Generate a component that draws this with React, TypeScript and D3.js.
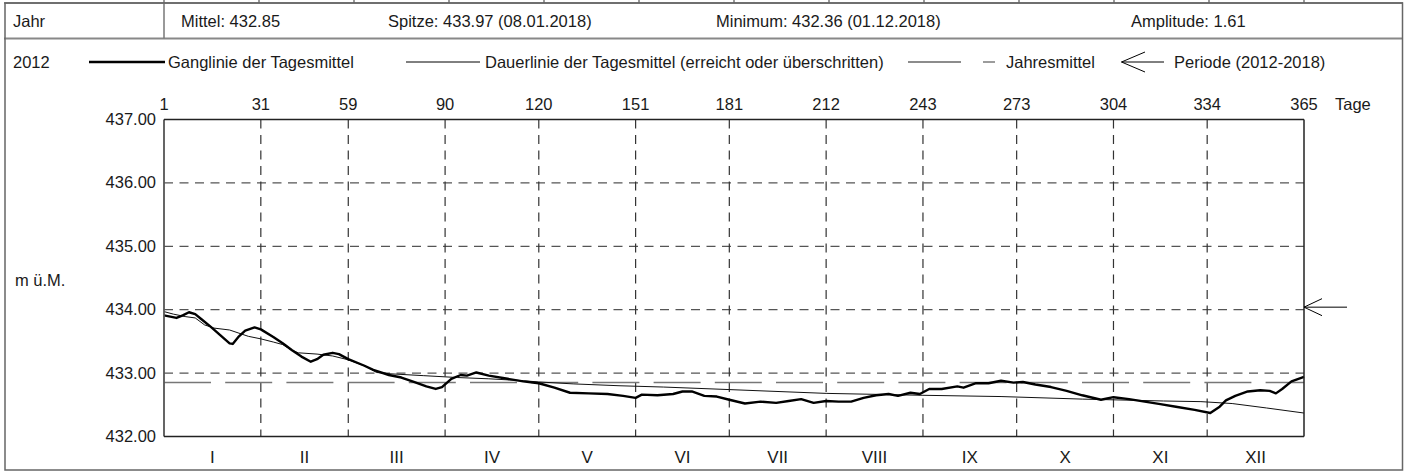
import React from "react";
import * as d3 from "d3";

const W = 1407;
const H = 472;

// header / legend texts
const yearLabel = "2012";
const statLabels = [
  "Mittel: 432.85",
  "Spitze: 433.97 (08.01.2018)",
  "Minimum: 432.36 (01.12.2018)",
  "Amplitude: 1.61",
];
const legendLabels = [
  "Ganglinie der Tagesmittel",
  "Dauerlinie der Tagesmittel (erreicht oder überschritten)",
  "Jahresmittel",
  "Periode (2012-2018)",
];

// axes
const dayTicks = [0, 31, 59, 90, 120, 151, 181, 212, 243, 273, 304, 334, 365];
const dayTickLabels = ["1", "31", "59", "90", "120", "151", "181", "212", "243", "273", "304", "334", "365"];
const months = ["I", "II", "III", "IV", "V", "VI", "VII", "VIII", "IX", "X", "XI", "XII"];
const levelTicks = [432, 433, 434, 435, 436, 437];

const yearMean = 432.85;
const periodMean = 434.04;

// Ganglinie der Tagesmittel
const gangDays = [
  0, 2, 4, 6, 8, 10, 12, 15, 18, 21, 22, 24, 26, 29, 31, 35, 38, 41, 44, 47, 49, 51, 54, 56, 59, 64, 67, 72, 76,
  80, 84, 87, 89, 92, 95, 97, 100, 104, 110, 115, 120, 125, 130, 136, 142, 147, 151, 153, 158, 163, 166, 169, 173,
  177, 181, 186, 191, 196, 200, 204, 208, 212, 216, 220, 224, 228, 232, 235, 239, 242, 245, 249, 254, 256, 260, 264,
  268, 272, 275, 279, 284, 289, 294, 300, 304, 309, 314, 319, 324, 330, 335, 338, 340, 343, 347, 351, 354, 356, 358,
  361, 365,
];
const gangValues = [
  433.91, 433.89, 433.87, 433.91, 433.96, 433.93, 433.85, 433.73, 433.6, 433.47, 433.46, 433.58, 433.67, 433.72,
  433.69, 433.57, 433.47, 433.36, 433.26, 433.18, 433.22, 433.29, 433.32, 433.3, 433.22, 433.12, 433.05, 432.97,
  432.93, 432.86, 432.79, 432.75, 432.78, 432.91, 432.97, 432.96, 433.01, 432.96, 432.91, 432.87, 432.84, 432.77,
  432.69, 432.68, 432.67, 432.64, 432.61, 432.66, 432.65, 432.67, 432.71, 432.71, 432.64, 432.63, 432.58, 432.52,
  432.55, 432.53, 432.56, 432.59, 432.53, 432.56, 432.55, 432.55, 432.61, 432.65, 432.67, 432.64, 432.69, 432.67,
  432.75, 432.75, 432.79, 432.77, 432.84, 432.84, 432.88, 432.85, 432.86, 432.82, 432.78, 432.72, 432.65, 432.58,
  432.62, 432.59, 432.55, 432.51, 432.47, 432.42, 432.37, 432.47, 432.57, 432.64, 432.71, 432.73, 432.72, 432.68,
  432.75, 432.87, 432.94,
];

// Dauerlinie der Tagesmittel
const dauerDays = [
  0, 3, 7, 10, 13, 16, 21, 24, 27, 31, 35, 38, 41, 43, 49, 54, 59, 65, 68, 72, 83, 94, 104, 115, 120, 131, 146, 160,
  181, 212, 243, 268, 294, 320, 332, 342, 353, 365,
];
const dauerValues = [
  433.97, 433.93, 433.89, 433.87, 433.76, 433.71, 433.68, 433.63, 433.58, 433.54, 433.49, 433.45, 433.36, 433.32,
  433.3, 433.27, 433.21, 433.1, 433.01, 432.99, 432.96, 432.93, 432.91, 432.88, 432.86, 432.83, 432.8, 432.78,
  432.74, 432.68, 432.65, 432.63, 432.59, 432.56, 432.55, 432.52, 432.45, 432.37,
];

const FONT = "'Liberation Sans', Arial, Helvetica, sans-serif";
const INK = "#1a1a1a";
const FS = 16.5;

export default function App() {
  const plot = { left: 164, right: 1304, top: 119.5, bottom: 436.5 };

  const x = d3.scaleLinear().domain([0, 365]).range([plot.left, plot.right]);
  const y = d3.scaleLinear().domain([432, 437]).range([plot.bottom, plot.top]);

  const pathOf = d3
    .line<[number, number]>()
    .x((d) => x(d[0]))
    .y((d) => y(d[1]));
  const gangPath = pathOf(gangDays.map((d, i) => [d, gangValues[i]] as [number, number])) ?? "";
  const dauerPath = pathOf(dauerDays.map((d, i) => [d, dauerValues[i]] as [number, number])) ?? "";

  // columns of the table that sits above this one (only their feet show)
  const colMarks = d3.range(13).map((k) => plot.left + (k * (plot.right - plot.left)) / 12);
  const statX = [181, 388, 716, 1131];

  const gridDash = "9,6.5";
  const headBase = 26.5;
  const legY = 62;
  const legBase = legY + 6;
  const arrowY = y(periodMean);

  return (
    <svg
      width={W}
      height={H}
      style={{ position: "absolute", left: 0, top: 0, background: "#fff" }}
      fontFamily={FONT}
    >
      {/* outer frame + table rows */}
      {colMarks.map((m) => (
        <line key={m} x1={m} x2={m} y1={0} y2={3} stroke="#555" strokeWidth={1.2} />
      ))}
      <line x1={4} x2={1403} y1={3} y2={3} stroke="#666" strokeWidth={1.5} />
      <line x1={4} x2={1403} y1={38.5} y2={38.5} stroke="#888" strokeWidth={2} />
      <line x1={plot.left} x2={plot.left} y1={3} y2={38.5} stroke="#777" strokeWidth={1.5} />
      <rect x={5} y={3} width={1397.5} height={467} fill="none" stroke="#666" strokeWidth={1.5} />

      {/* header row */}
      <text x={13} y={headBase} fontSize={FS} fill={INK}>
        Jahr
      </text>
      {statLabels.map((s, i) => (
        <text key={s} x={statX[i]} y={headBase} fontSize={FS} fill={INK}>
          {s}
        </text>
      ))}

      {/* legend row */}
      <text x={13} y={legBase} fontSize={FS} fill={INK}>
        {yearLabel}
      </text>
      <line x1={89} x2={165} y1={legY} y2={legY} stroke="#000" strokeWidth={2.5} />
      <text x={168} y={legBase} fontSize={FS} fill={INK}>
        {legendLabels[0]}
      </text>
      <line x1={406} x2={480} y1={legY} y2={legY} stroke="#000" strokeWidth={1} />
      <text x={485} y={legBase} fontSize={FS} fill={INK}>
        {legendLabels[1]}
      </text>
      <line x1={908} x2={961} y1={legY} y2={legY} stroke="#666" strokeWidth={1.3} />
      <line x1={983} x2={995} y1={legY} y2={legY} stroke="#666" strokeWidth={1.3} />
      <text x={1006} y={legBase} fontSize={FS} fill={INK}>
        {legendLabels[2]}
      </text>
      <path
        d={`M1121.5,${legY}H1164M1145,${legY - 10}L1121.5,${legY}L1145,${legY + 10}`}
        fill="none"
        stroke="#000"
        strokeWidth={1}
      />
      <text x={1174} y={legBase} fontSize={FS} fill={INK}>
        {legendLabels[3]}
      </text>

      {/* grid */}
      {levelTicks
        .filter((v) => v > 432 && v < 437)
        .map((v) => (
          <line
            key={"h" + v}
            x1={plot.left}
            x2={plot.right}
            y1={y(v)}
            y2={y(v)}
            stroke="#555"
            strokeWidth={1.2}
            strokeDasharray={gridDash}
          />
        ))}
      {dayTicks.slice(1, -1).map((d) => (
        <line
          key={"v" + d}
          x1={x(d)}
          x2={x(d)}
          y1={plot.top}
          y2={plot.bottom}
          stroke="#333"
          strokeWidth={1.2}
          strokeDasharray={gridDash}
        />
      ))}

      {/* Jahresmittel */}
      <line
        x1={plot.left}
        x2={plot.right}
        y1={y(yearMean)}
        y2={y(yearMean)}
        stroke="#777"
        strokeWidth={1.5}
        strokeDasharray="47,14.2"
      />

      {/* curves */}
      <path d={dauerPath} fill="none" stroke="#111" strokeWidth={1} />
      <path d={gangPath} fill="none" stroke="#000" strokeWidth={2.4} strokeLinejoin="round" />

      {/* plot frame */}
      <line x1={plot.left} x2={plot.left} y1={plot.top} y2={plot.bottom} stroke="#555" strokeWidth={1.8} />
      <line x1={plot.left} x2={plot.right} y1={plot.top} y2={plot.top} stroke="#222" strokeWidth={1.5} />
      <line x1={plot.right} x2={plot.right} y1={plot.top} y2={plot.bottom} stroke="#222" strokeWidth={1.5} />
      <line x1={plot.left} x2={plot.right} y1={plot.bottom} y2={plot.bottom} stroke="#222" strokeWidth={1.5} />

      {/* y axis */}
      {levelTicks.map((v) => (
        <text key={"yl" + v} x={156} y={y(v) + 5.5} fontSize={FS} textAnchor="end" fill={INK}>
          {v.toFixed(2)}
        </text>
      ))}
      <text x={15} y={286} fontSize={FS} fill={INK}>
        m ü.M.
      </text>

      {/* x axis */}
      {dayTicks.map((d, i) => (
        <text key={"xl" + d} x={x(d)} y={110} fontSize={FS} textAnchor="middle" fill={INK}>
          {dayTickLabels[i]}
        </text>
      ))}
      <text x={1335} y={110} fontSize={FS} fill={INK}>
        Tage
      </text>
      {months.map((m, i) => (
        <text
          key={m}
          x={(x(dayTicks[i]) + x(dayTicks[i + 1])) / 2}
          y={462.5}
          fontSize={17}
          textAnchor="middle"
          fill={INK}
        >
          {m}
        </text>
      ))}

      {/* Periode arrow */}
      <path
        d={`M${plot.right},${arrowY}H1347M${plot.right + 18},${arrowY - 8.5}L${plot.right},${arrowY}L${plot.right + 18},${arrowY + 8.5}`}
        fill="none"
        stroke="#000"
        strokeWidth={1}
      />
    </svg>
  );
}
